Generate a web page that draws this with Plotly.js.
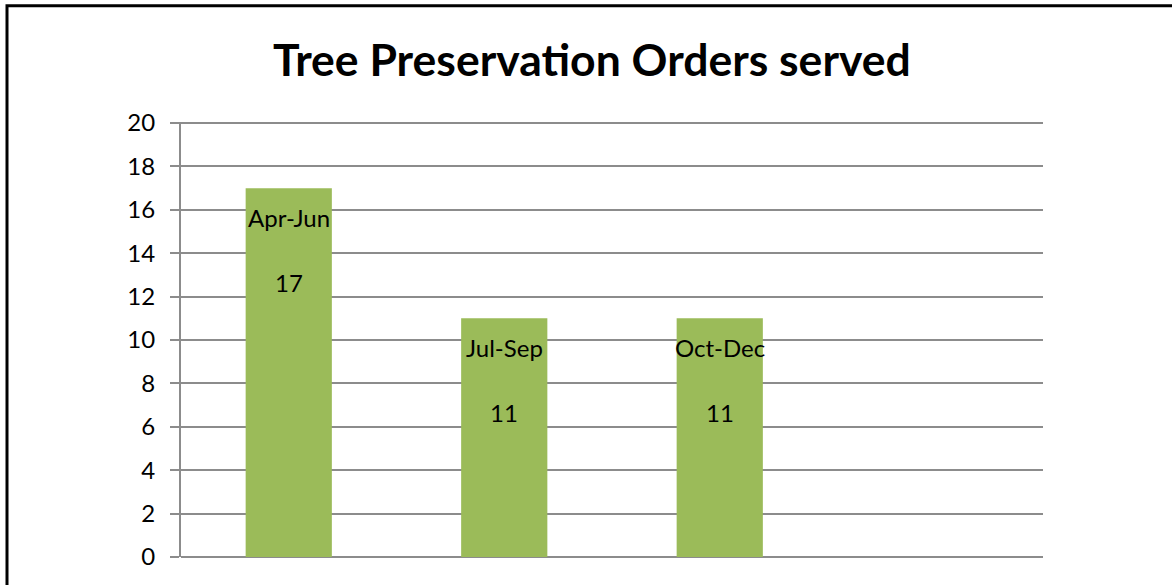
<!DOCTYPE html>
<html>
<head>
<meta charset="utf-8">
<script src="https://cdn.plot.ly/plotly-3.0.1.min.js"></script>
<style>html,body{margin:0;padding:0;background:#fff;}#chart{width:1172px;height:585px;}</style>
</head>
<body>
<div id="chart"></div>
<script>
const categories = ["Apr-Jun", "Jul-Sep", "Oct-Dec"];
const ordersServed = [17, 11, 11];
const yTickValues = [0, 2, 4, 6, 8, 10, 12, 14, 16, 18, 20];
const chartTitle = "Tree Preservation Orders served";

const FONT = "Lato, 'Liberation Sans', Arial, sans-serif";
const W = 1172, H = 585;
const L = 181, R = 1043, T = 123, B = 557;

const annotations = [];
categories.forEach((c, i) => {
  annotations.push({x: c, y: ordersServed[i], xref: 'x', yref: 'y', text: c, showarrow: false,
    yanchor: 'middle', xanchor: 'center', yshift: -29, font: {family: FONT, size: 24, color: '#000'}});
  annotations.push({x: c, y: ordersServed[i], xref: 'x', yref: 'y', text: String(ordersServed[i]), showarrow: false,
    yanchor: 'middle', xanchor: 'center', yshift: -94, font: {family: FONT, size: 24, color: '#000'}});
});

const pw = R - L, ph = B - T;
const shapes = [{
  type: 'rect', xref: 'paper', yref: 'paper',
  x0: (7 - L) / pw, x1: (W + 20 - L) / pw,
  y0: (B - (H + 20)) / ph, y1: (B - 7) / ph,
  line: {color: '#000', width: 3}, fillcolor: 'rgba(0,0,0,0)', layer: 'above'
}];

Plotly.newPlot('chart', [{
  type: 'bar', x: categories, y: ordersServed,
  marker: {color: '#9BBB59', line: {width: 0}},
  width: 0.4, hoverinfo: 'none'
}], {
  width: W, height: H,
  margin: {l: L, r: W - R, t: T - 1, b: H - B, pad: 0},
  paper_bgcolor: '#fff', plot_bgcolor: '#fff',
  showlegend: false,
  title: {text: '<b>' + chartTitle + '</b>', font: {family: FONT, size: 44.5, color: '#000'},
    x: 0.505, xref: 'container', xanchor: 'center', y: 1 - 60 / H, yref: 'container', yanchor: 'middle'},
  xaxis: {type: 'category', range: [-0.5, 3.5], showticklabels: false, ticks: '',
    showgrid: false, zeroline: false, showline: false, fixedrange: true},
  yaxis: {range: [0, 20.05], tickvals: yTickValues, ticktext: yTickValues.map(String),
    showgrid: true, gridcolor: '#8c8c8c', gridwidth: 2,
    zeroline: true, zerolinecolor: '#8c8c8c', zerolinewidth: 2,
    showline: true, linecolor: '#8c8c8c', linewidth: 2,
    ticks: 'outside', ticklen: 9, tickcolor: '#8c8c8c', tickwidth: 2,
    ticklabelstandoff: 10,
    tickfont: {family: FONT, size: 24, color: '#000'}, fixedrange: true},
  annotations: annotations,
  shapes: shapes
}, {displayModeBar: false, staticPlot: true});
</script>
</body>
</html>
